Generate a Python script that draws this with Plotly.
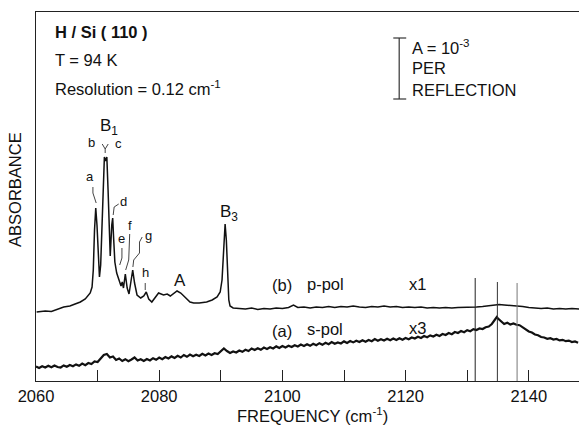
import plotly.graph_objects as go

# ---------------- data (absorbance in arbitrary offset units; scale bar = 61 units = 1e-3) -------------
p_freq = [2060.1, 2061.5, 2062.5, 2063.5, 2064.5, 2065.5, 2066.5, 2067.2, 2068.0, 2068.8,
          2069.1, 2069.3, 2069.5, 2069.7, 2069.9, 2070.1, 2070.3, 2070.5, 2070.7, 2070.9,
          2071.1, 2071.3, 2071.5, 2071.7, 2071.9, 2072.05, 2072.3, 2072.45, 2072.6, 2072.8,
          2073.1, 2073.5, 2073.8, 2074.0, 2074.2, 2074.5, 2074.8, 2075.1, 2075.4, 2075.7,
          2076.0, 2076.4, 2077.0, 2077.5, 2077.9, 2078.3, 2078.8, 2079.4, 2079.9, 2080.7,
          2081.3, 2081.8, 2082.4, 2082.9, 2083.5, 2084.0, 2084.5, 2085.0, 2085.6, 2086.5,
          2087.7, 2088.6, 2089.4, 2089.9, 2090.2, 2090.45, 2090.7, 2090.9, 2091.1, 2091.3,
          2091.5, 2092.0, 2093.0, 2094.0, 2095.0, 2096.0, 2097.0, 2098.0, 2099.0, 2100.0,
          2101.0, 2101.8, 2102.5, 2103.5, 2104.5, 2105.5, 2106.5, 2107.5, 2108.5, 2109.5,
          2110.5, 2111.5, 2112.5, 2113.5, 2114.5, 2115.5, 2116.5, 2117.5, 2118.5, 2119.5,
          2120.5, 2121.5, 2122.5, 2123.5, 2124.5, 2125.5, 2126.5, 2127.5, 2128.5, 2129.5,
          2130.5, 2131.5, 2132.5, 2133.5, 2134.5, 2135.2, 2136.0, 2137.0, 2138.0, 2139.0,
          2140.0, 2141.0, 2142.0, 2143.0, 2144.0, 2145.0, 2146.0, 2147.0, 2148.2]
p_abs = [69, 70, 69.5, 71.5, 74, 75, 77, 79, 82, 88,
         94, 111, 151, 173, 156, 119, 104, 116, 161, 206,
         224, 220, 224, 191, 141, 125, 156, 163, 143, 119,
         108, 101, 95, 99, 93, 107, 93, 87, 97, 111,
         98, 86, 83, 85, 89, 82, 79, 84, 88, 86,
         87, 85, 88, 90, 88, 85, 82, 79, 78, 78,
         79, 81, 84, 89, 101, 131, 157, 141, 101, 81,
         75, 73, 72.5, 72, 73, 71.5, 72.5, 72, 73, 72.5,
         73.5, 76, 73.5, 74, 73, 74, 73.5, 74.5, 73.5, 74.5,
         74, 75, 74, 73.5, 74.5, 74, 75, 74, 74.5, 73.5,
         74, 73.5, 74, 73, 73.5, 73, 73.5, 73, 73.5, 73.5,
         74, 74, 74.5, 75, 76, 76.5, 76, 75.5, 75.5, 74.5,
         73.5, 73, 72.5, 73, 72, 72.5, 72, 72.5, 72]

s_freq = [2060.0, 2060.5, 2061.0, 2061.5, 2062.0, 2062.5, 2063.0, 2063.5, 2064.0, 2064.5,
          2065.0, 2065.5, 2066.0, 2066.5, 2067.0, 2067.5, 2068.0, 2068.5, 2069.0, 2069.5,
          2070.0, 2070.5, 2071.0, 2071.5, 2072.0, 2072.5, 2073.0, 2073.5, 2074.0, 2074.5,
          2075.0, 2075.5, 2076.0, 2076.5, 2077.0, 2077.5, 2078.0, 2078.5, 2079.0, 2079.5,
          2080.0, 2080.5, 2081.0, 2081.5, 2082.0, 2082.5, 2083.0, 2083.5, 2084.0, 2084.5,
          2085.0, 2085.5, 2086.0, 2086.5, 2087.0, 2087.5, 2088.0, 2088.5, 2089.0, 2089.5,
          2090.0, 2090.5, 2091.0, 2091.5, 2092.0, 2092.5, 2093.0, 2093.5, 2094.0, 2094.5,
          2095.0, 2095.5, 2096.0, 2096.5, 2097.0, 2097.5, 2098.0, 2098.5, 2099.0, 2099.5,
          2100.0, 2100.5, 2101.0, 2101.5, 2102.0, 2102.5, 2103.0, 2103.5, 2104.0, 2104.5,
          2105.0, 2105.5, 2106.0, 2106.5, 2107.0, 2107.5, 2108.0, 2108.5, 2109.0, 2109.5,
          2110.0, 2110.5, 2111.0, 2111.5, 2112.0, 2112.5, 2113.0, 2113.5, 2114.0, 2114.5,
          2115.0, 2115.5, 2116.0, 2116.5, 2117.0, 2117.5, 2118.0, 2118.5, 2119.0, 2119.5,
          2120.0, 2120.5, 2121.0, 2121.5, 2122.0, 2122.5, 2123.0, 2123.5, 2124.0, 2124.5,
          2125.0, 2125.5, 2126.0, 2126.5, 2127.0, 2127.5, 2128.0, 2128.5, 2129.0, 2129.5,
          2130.0, 2130.5, 2131.0, 2131.5, 2132.0, 2132.5, 2133.0, 2133.5, 2134.0, 2134.5,
          2134.8, 2135.0, 2135.5, 2136.0, 2136.5, 2137.0, 2137.5, 2138.0, 2138.5, 2139.0,
          2139.5, 2140.0, 2140.5, 2141.0, 2141.5, 2142.0, 2142.5, 2143.0, 2143.5, 2144.0,
          2144.5, 2145.0, 2145.5, 2146.0, 2146.5, 2147.0, 2147.5, 2148.0]
s_abs = [14.5, 13, 14.8, 13.5, 15.2, 13.8, 15.5, 14, 13.5, 15.6,
         14.2, 16, 14.8, 16.6, 15.2, 17.5, 15.8, 18, 17, 19.5,
         19, 23, 26, 27, 23.5, 24.5, 21, 22.5, 20, 21.8,
         19.8, 21.5, 23.5, 20.5, 21.8, 20, 22, 20.5, 22.8, 21.2,
         23.5, 21.8, 24, 22.5, 24.6, 23, 25.2, 23.5, 26, 24.2,
         26.5, 24.8, 26.2, 25, 27.2, 25.5, 27.5, 26, 27.8, 27,
         30, 32.5, 30, 28, 29.5, 28.5, 30.5, 29.2, 31.2, 30,
         32.5, 31, 32.8, 31.2, 33.5, 32, 33.8, 32.5, 34.6, 33,
         35, 33.5, 35.2, 34, 35.8, 34.5, 36.5, 35, 36.8, 35.2,
         37.2, 35.8, 37.8, 36.2, 38.2, 36.8, 39, 37.2, 38.5, 37.5,
         39.6, 38, 40, 38.6, 40.2, 39, 40.8, 39.2, 41, 39.8,
         42, 40.2, 41.8, 40.5, 42.2, 40.8, 42.5, 41, 42.8, 41.2,
         43, 41.8, 43.5, 42.5, 44.2, 43, 45, 43.8, 45.6, 44.5,
         46.2, 45, 47, 46, 48, 46.8, 49, 48, 50, 48.8,
         50.8, 49.8, 51.8, 51, 52.5, 52, 53.8, 54.5, 57, 61,
         64, 62.5, 59.5, 57, 58.2, 56.5, 57.6, 56.2, 55.8, 53.5,
         51.5, 49.5, 48.5, 46.5, 45.8, 44, 43.5, 42.2, 42.8, 41.5,
         42, 40.6, 41.2, 39.8, 40.4, 39, 39.6, 38.2]

mode_freqs = [2131.3, 2134.9, 2138.1]
mode_tops = [103, 99, 98]
mode_colors = ["#222222", "#333333", "#777777"]

tick_labels = ["2060", "2080", "2100", "2120", "2140"]
tick_vals = [2060, 2080, 2100, 2120, 2140]

FONT = "Liberation Sans, Arial, Helvetica, sans-serif"
INK = "#111111"

fig = go.Figure()
fig.add_trace(go.Scatter(x=p_freq, y=p_abs, mode="lines",
                         line=dict(color=INK, width=1.5), showlegend=False, hoverinfo="skip"))
fig.add_trace(go.Scatter(x=s_freq, y=s_abs, mode="lines",
                         line=dict(color=INK, width=2.2), showlegend=False, hoverinfo="skip"))

shapes = []
for f, t, c in zip(mode_freqs, mode_tops, mode_colors):
    shapes.append(dict(type="line", xref="x", yref="y", x0=f, x1=f, y0=0, y1=t,
                       line=dict(color=c, width=1)))

# leader lines for peak labels
leaders = [
    "M 2069.24,194 L 2069.24,188 L 2069.77,178",
    "M 2070.75,237 L 2071.23,232 L 2071.72,237 M 2071.23,232 L 2071.23,228",
    "M 2073.43,177 L 2072.69,174 L 2072.53,166",
    "M 2073.95,133 L 2073.95,123 L 2073.59,116",
    "M 2075.21,147 L 2075.05,121 L 2074.56,111",
    "M 2077.24,144 L 2076.80,139 L 2076.80,128 L 2075.86,121 L 2075.73,114",
    "M 2077.73,98 L 2077.73,91",
]
for p in leaders:
    shapes.append(dict(type="path", xref="x", yref="y", path=p,
                       line=dict(color="#444444", width=1)))

# scale bar
shapes += [
    dict(type="line", xref="x", yref="y", x0=2118.96, x1=2118.96, y0=282, y1=343,
         line=dict(color="#333333", width=1.2)),
    dict(type="line", xref="x", yref="y", x0=2118.0, x1=2120.1, y0=343, y1=343,
         line=dict(color="#333333", width=1.2)),
    dict(type="line", xref="x", yref="y", x0=2118.0, x1=2120.1, y0=282, y1=282,
         line=dict(color="#333333", width=1.2)),
]

def ann(text, x, y, size=16.5, xanchor="center", bold=False, xref="x", yref="y", angle=0):
    if bold:
        text = "<b>" + text + "</b>"
    return dict(text=text, x=x, y=y, xref=xref, yref=yref, showarrow=False,
                xanchor=xanchor, yanchor="middle", textangle=angle,
                font=dict(family=FONT, size=size, color=INK))

annotations = [
    ann("H / Si ( 110 )", 2062.8, 349, xanchor="left", bold=True),
    ann("T = 94 K", 2062.8, 321, xanchor="left"),
    ann("Resolution = 0.12 cm<sup>-1</sup>", 2062.8, 293, xanchor="left"),
    ann("A = 10<sup>-3</sup>", 2120.7, 334, xanchor="left"),
    ann("PER", 2120.7, 313, xanchor="left"),
    ann("REFLECTION", 2120.7, 291, xanchor="left"),
    ann("B<sub>1</sub>", 2071.8, 254, size=17),
    ann("b", 2068.97, 239, size=13),
    ann("c", 2073.34, 238, size=13),
    ann("a", 2068.8, 205, size=13),
    ann("d", 2074.16, 180, size=13),
    ann("e", 2073.95, 143, size=13),
    ann("f", 2075.29, 156, size=13),
    ann("g", 2078.26, 146, size=13),
    ann("h", 2077.79, 109, size=13),
    ann("A", 2083.41, 101, size=17),
    ann("B<sub>3</sub>", 2091.4, 168, size=17),
    ann("(b)", 2099.92, 96),
    ann("p-pol", 2106.95, 97),
    ann("x1", 2121.88, 97),
    ann("(a)", 2099.92, 50),
    ann("s-pol", 2106.95, 52),
    ann("x3", 2121.88, 53),
    ann("ABSORBANCE", -0.039, 0.52, xref="paper", yref="paper", angle=-90),
    ann("FREQUENCY (cm<sup>-1</sup>)", 0.51, -0.092, xref="paper", yref="paper"),
]

fig.update_layout(
    width=579, height=426,
    margin=dict(l=36, r=0, t=12, b=45),
    paper_bgcolor="white", plot_bgcolor="white",
    shapes=shapes, annotations=annotations,
    font=dict(family=FONT, size=16, color=INK),
    xaxis=dict(range=[2060, 2148.15], showgrid=False, zeroline=False,
               showline=True, linecolor="#222222", linewidth=1.2, mirror=True,
               ticks="inside", ticklen=11, tickcolor="#222222", tickwidth=1,
               tickvals=tick_vals, ticktext=tick_labels,
               tickfont=dict(family=FONT, size=16.5, color=INK),
               minor=dict(dtick=10, tick0=2060, ticks="inside", ticklen=11,
                          tickcolor="#222222", tickwidth=1)),
    yaxis=dict(range=[0, 369], showgrid=False, zeroline=False,
               showline=True, linecolor="#222222", linewidth=1.2,
               showticklabels=False, ticks=""),
)

fig.write_html("out.html", config={"displayModeBar": False},
               post_script="document.body.style.margin='0';document.body.style.overflow='hidden';")
